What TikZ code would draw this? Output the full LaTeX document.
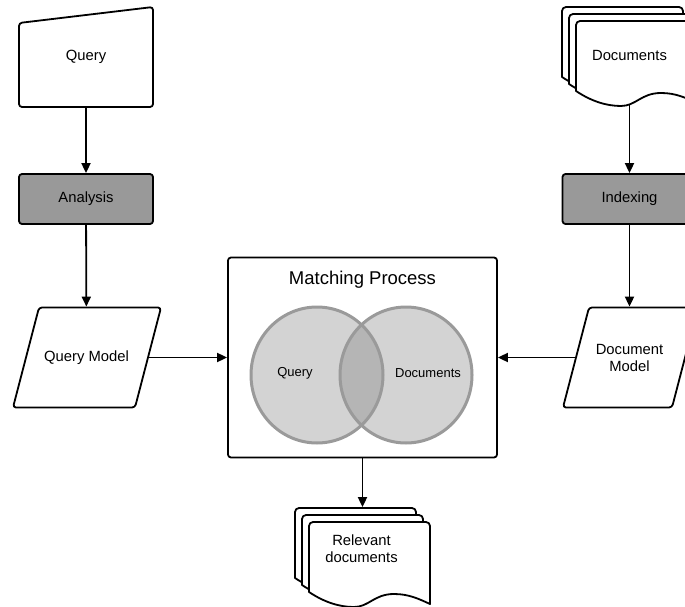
\documentclass[tikz,border=0pt]{standalone}
\usepackage{fontspec}
\setmainfont{Liberation Sans}
\usetikzlibrary{arrows.meta}
\definecolor{boxgray}{HTML}{999999}
\definecolor{venngray}{HTML}{D3D3D3}
\definecolor{overlapgray}{HTML}{B5B5B5}
\definecolor{ringgray}{HTML}{9A9A9A}
\begin{document}
\begin{tikzpicture}[x=1pt,y=-1pt,line width=1.8pt,line join=round,
    every node/.style={font=\fontsize{14.8}{17}\selectfont,align=center},
    flow/.style={-{Triangle[length=10pt,width=9pt]}},
    procbox/.style={draw,fill=boxgray,rounded corners=3pt,minimum width=134,minimum height=50,inner sep=0},
    label/.style={minimum height=100,inner sep=0}]
      \useasboundingbox (0,0) rectangle (685,607);
      % left column
      \draw[rounded corners=3pt] (86,107) -- (153,107) -- (153,7) -- (19,23) -- (19,107) -- cycle;
      \node[minimum width=134,minimum height=100,inner sep=0] (query) at (86,57) {Query};
      \node[procbox] (analysis) at (86,199) {Analysis};
      \draw[rounded corners=3pt] (74,407.5) -- (135,407.5) -- (161,307.5) -- (39,307.5) -- (13,407.5) -- cycle;
      \node[label,minimum width=123] (qmodel) at (86.5,357.5) {Query Model};
      % right column
      \foreach \d in {0,7,14}
        \draw[fill=white,shift={(562+\d,7+\d)}] (0,35) [rounded corners=4pt] -- (0,0) -- (121,0) [sharp corners] -- (121,82)
          .. controls (110,77) and (100,72) .. (85,72) .. controls (65,72) and (60,85) .. (45,85)
          .. controls (30,85) and (15,80) .. (0,70) -- cycle;
      \node[minimum height=97,inner sep=0] (docs) at (629.5,55.5) {Documents};
      \node[procbox] (indexing) at (629.5,199) {Indexing};
      \draw[rounded corners=3pt] (617,407.5) -- (672,407.5) -- (698,307.5) -- (589,307.5) -- (563,407.5) -- cycle;
      \node[label,minimum width=107] (dmodel) at (629.5,357.5) {Document\\Model};
      % matching process
      \node[draw,rounded corners=3pt,minimum width=269,minimum height=200,inner sep=0] (match) at (362.5,357.5) {};
      \node[font=\fontsize{18.5}{21}\selectfont] (title) at (362.5,280) {Matching Process};
      \fill[venngray] (317,375) ellipse [x radius=66,y radius=68];
      \fill[venngray] (406,375) ellipse [x radius=66,y radius=68];
      \begin{scope}
        \clip (317,375) ellipse [x radius=66,y radius=68];
        \fill[overlapgray] (406,375) ellipse [x radius=66,y radius=68];
      \end{scope}
      \draw[ringgray,line width=3pt] (317,375) ellipse [x radius=66,y radius=68];
      \draw[ringgray,line width=3pt] (406,375) ellipse [x radius=66,y radius=68];
      \node[font=\fontsize{13}{15}\selectfont] (vquery) at (295,373) {Query};
      \node[font=\fontsize{13}{15}\selectfont] (vdocs) at (428,373) {Documents};
      % result
      \foreach \d in {0,7,14}
        \draw[fill=white,shift={(295+\d,508+\d)}] (0,35) [rounded corners=4pt] -- (0,0) -- (121,0) [sharp corners] -- (121,82)
          .. controls (110,77) and (100,72) .. (85,72) .. controls (65,72) and (60,85) .. (45,85)
          .. controls (30,85) and (15,80) .. (0,70) -- cycle;
      \node[minimum height=82,inner sep=0] (relevant) at (361.5,549) {Relevant\\documents};
      % connectors
      \draw[flow] (query) -- (analysis);
      \draw[flow] (analysis) -- (qmodel);
      \draw[flow] (docs) -- (indexing);
      \draw[flow] (indexing) -- (dmodel);
      \draw[flow] (qmodel) -- (match);
      \draw[flow] (dmodel) -- (match);
      \draw[flow] (match.south) -- (match.south |- relevant.north);
    \end{tikzpicture}
\end{document}
